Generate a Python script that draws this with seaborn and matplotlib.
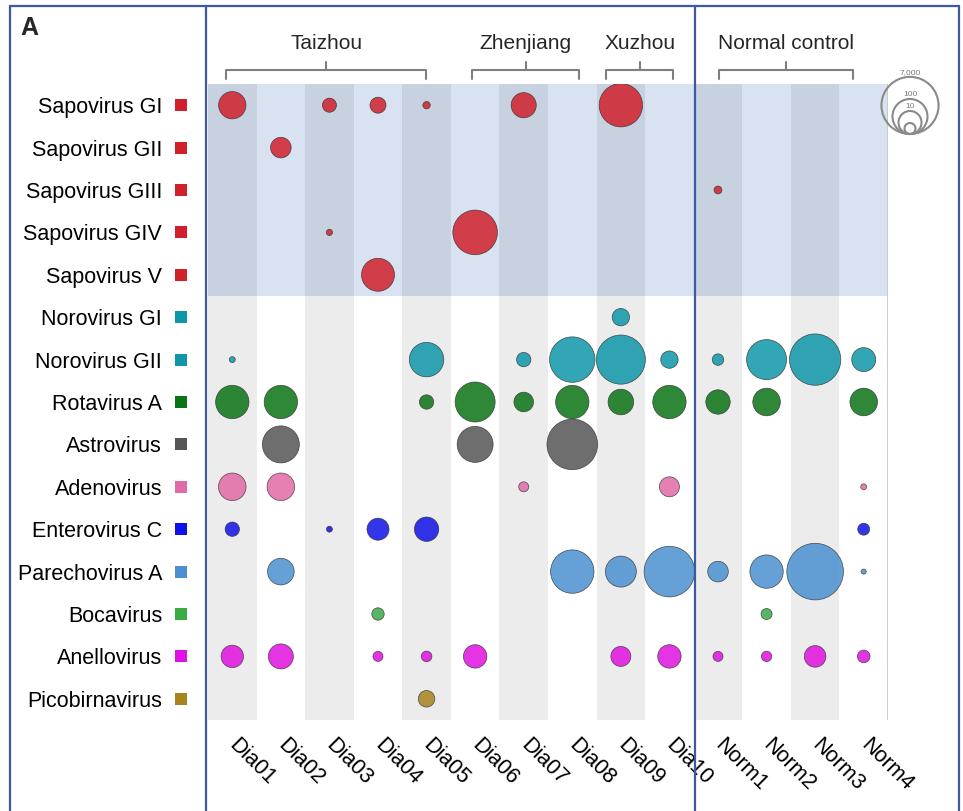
import numpy as np
import pandas as pd
import matplotlib
matplotlib.use('Agg')
import matplotlib.pyplot as plt
import matplotlib.transforms as mtransforms
from matplotlib.lines import Line2D
import seaborn as sns

samples = ['Dia01', 'Dia02', 'Dia03', 'Dia04', 'Dia05', 'Dia06', 'Dia07',
           'Dia08', 'Dia09', 'Dia10', 'Norm1', 'Norm2', 'Norm3', 'Norm4']

viruses = ['Sapovirus GI', 'Sapovirus GII', 'Sapovirus GIII', 'Sapovirus GIV',
           'Sapovirus V', 'Norovirus GI', 'Norovirus GII', 'Rotavirus A',
           'Astrovirus', 'Adenovirus', 'Enterovirus C', 'Parechovirus A',
           'Bocavirus', 'Anellovirus', 'Picobirnavirus']

colours = ['#d0202a', '#d0202a', '#d0202a', '#d0202a', '#d0202a',
           '#0e97a8', '#0e97a8', '#0a7314', '#555555', '#e26aa6',
           '#1010e8', '#4a8fd0', '#3aaa45', '#e010e0', '#a8841c']

# reads per sample (0 = not detected), columns follow `samples`
sapo_gi = [23, 0, 1.8, 2.6, 0.5, 0, 15, 0, 500, 0, 0, 0, 0, 0]
sapo_gii = [0, 6.3, 0, 0, 0, 0, 0, 0, 0, 0, 0, 0, 0, 0]
sapo_giii = [0, 0, 0, 0, 0, 0, 0, 0, 0, 0, 0.55, 0, 0, 0]
sapo_giv = [0, 0, 0.4, 0, 0, 630, 0, 0, 0, 0, 0, 0, 0, 0]
sapo_v = [0, 0, 0, 68, 0, 0, 0, 0, 0, 0, 0, 0, 0, 0]
noro_gi = [0, 0, 0, 0, 0, 0, 0, 0, 3.4, 0, 0, 0, 0, 0]
noro_gii = [0.38, 0, 0, 0, 90, 0, 1.9, 740, 1500, 3.4, 1.1, 260, 2300, 12]
rota_a = [73, 73, 0, 0, 1.9, 260, 5.2, 73, 16.5, 73, 13, 24, 0, 24]
astro = [0, 147, 0, 0, 0, 120, 0, 2000, 0, 0, 0, 0, 0, 0]
adeno = [24, 24, 0, 0, 0, 0, 0.83, 0, 0, 5.6, 0, 0, 0, 0.38]
entero_c = [1.9, 0, 0.38, 8.3, 13, 0, 0, 0, 0, 0, 0, 0, 0, 1.2]
parecho_a = [0, 20, 0, 0, 0, 0, 0, 500, 46, 2000, 6.3, 73, 6300, 0.32]
boca = [0, 0, 0, 1.3, 0, 0, 0, 0, 0, 0, 0, 1.0, 0, 0]
anello = [8.9, 14.7, 0, 0.83, 0.93, 10.8, 0, 0, 5.6, 10.8, 0.83, 0.89, 7.6, 1.36]
picobirna = [0, 0, 0, 0, 2.9, 0, 0, 0, 0, 0, 0, 0, 0, 0]

reads = [sapo_gi, sapo_gii, sapo_giii, sapo_giv, sapo_v, noro_gi, noro_gii,
         rota_a, astro, adeno, entero_c, parecho_a, boca, anello, picobirna]

legend_values = [7000, 100, 10, 1]
groups = [('Taizhou', -0.12, 3.99), ('Zhenjiang', 4.94, 7.14),
          ('Xuzhou', 7.70, 9.08), ('Normal control', 10.03, 12.77)]


def bubble_radius(v):
    # radius in pixels grows with log10 of the read count
    return 5.5 + 6 * np.log10(v)


def marker_area(v):
    return (1.44 * bubble_radius(v)) ** 2


rows = []
for i, virus in enumerate(viruses):
    for j, v in enumerate(reads[i]):
        if v > 0:
            rows.append({'virus': virus, 'row': i, 'col': j, 'reads': v})
df = pd.DataFrame(rows)
df['area'] = marker_area(df['reads'])

sns.set_theme(style='white')
plt.rcParams['font.family'] = ['Liberation Sans', 'DejaVu Sans']

W, H = 963, 811
fig = plt.figure(figsize=(W / 100, H / 100), dpi=100)
ax = fig.add_axes([208 / W, (H - 720) / H, 680 / W, 636 / H])

# background: blue block for sapoviruses, grey stripes on alternate samples
ax.axhspan(-0.5, 4.5, color='#d8e2f1', lw=0, zorder=0)
for j in range(0, len(samples), 2):
    ax.axvspan(j - 0.5, j + 0.5, color='black', alpha=0.075, lw=0, zorder=1)
ax.axvline(len(samples) - 0.5, color='#c8c8c8', lw=2, zorder=2)

palette = dict(zip(viruses, colours))
amin, amax = df['area'].min(), df['area'].max()
sns.scatterplot(data=df, x='col', y='row', hue='virus', palette=palette,
                size='area', sizes=(amin, amax), size_norm=(amin, amax),
                legend=False, alpha=0.85, edgecolor=(0.2, 0.2, 0.2, 0.35),
                linewidth=0.5, ax=ax, zorder=3)

ax.set_xlim(-0.5, len(samples) - 0.5)
ax.set_ylim(len(viruses) - 0.5, -0.5)
ax.set_xlabel('')
ax.set_ylabel('')
for s in ax.spines.values():
    s.set_visible(False)

ax.set_yticks(range(len(viruses)))
ax.set_yticklabels(viruses, fontsize=15.5, color='black')
ax.tick_params(axis='y', length=0, pad=33)
ax.set_xticks(range(len(samples)))
ax.set_xticklabels(samples, fontsize=15.5, color='black')
ax.tick_params(axis='x', length=0, pad=16)
for lbl in ax.get_xticklabels():
    lbl.set_rotation(-45)
    lbl.set_ha('left')
    lbl.set_va('center')
    lbl.set_rotation_mode('anchor')

# coloured squares next to the virus names
sq_trans = mtransforms.blended_transform_factory(ax.transAxes, ax.transData)
ax.scatter([-27 / 680] * len(viruses), range(len(viruses)), c=colours,
           marker='s', s=75, transform=sq_trans, clip_on=False, lw=0)

# group brackets above the samples
br_trans = mtransforms.blended_transform_factory(ax.transData, ax.transAxes)
for name, x0, x1 in groups:
    xm = (x0 + x1) / 2
    ax.plot([x0, x0, x1, x1], [1.008, 1.022, 1.022, 1.008], color='#7f7f7f',
            lw=1.5, transform=br_trans, clip_on=False)
    ax.plot([xm, xm], [1.022, 1.035], color='#7f7f7f', lw=1.5,
            transform=br_trans, clip_on=False)
    ax.text(xm, 1.064, name, ha='center', va='center', fontsize=15,
            transform=br_trans)

# size legend (pixel coordinates)
lax = fig.add_axes([870 / W, (H - 140) / H, 80 / W, 70 / H])
lax.set_xlim(870, 950)
lax.set_ylim(140, 70)
lax.axis('off')
for v in legend_values:
    r = bubble_radius(v)
    lax.scatter([910], [134 - r], s=marker_area(v), facecolor='none',
                edgecolor='#8a8a8a', lw=1.5, clip_on=False)
    if v > 1:
        lax.text(910, 134 - 2 * r - 1, f'{v:,}', ha='center', va='bottom',
                 fontsize=6, color='#777777')

# panel frame
blue = '#3d5aa0'
for xs, ys in [([10, 959], [6, 6]), ([10, 10], [6, 811]), ([959, 959], [6, 811]),
               ([206, 206], [6, 811]), ([695, 695], [6, 811])]:
    fig.add_artist(Line2D([x / W for x in xs], [1 - y / H for y in ys],
                          color=blue, lw=1.6))
fig.text(20 / W, 1 - 28 / H, 'A', fontsize=18, fontweight='bold',
         va='center', ha='left')

fig.savefig('out.png', dpi=100)
